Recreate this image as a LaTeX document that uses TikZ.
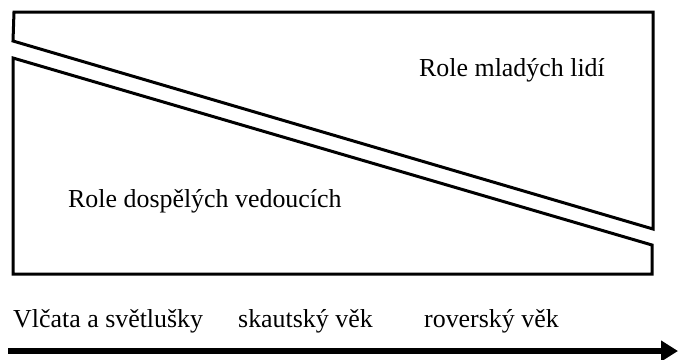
\documentclass[tikz,border=0pt]{standalone}
\usepackage{fontspec}
\setmainfont{Liberation Serif}
\usetikzlibrary{arrows.meta}

\begin{document}
\begin{tikzpicture}[x=1bp,y=-1bp,
    lbl/.style={inner sep=0pt, anchor=base west, font=\fontsize{26}{30}\selectfont},
    band/.style={line width=3bp, line join=miter},
    timeline/.style={line width=6bp, -{Triangle[length=17bp,width=20bp]}}]
\useasboundingbox (0,0) rectangle (678,359);

% role bands
\draw[band] (14,12) -- (653,12) -- (653,229) -- (13,41) -- cycle;
\draw[band] (13,58) -- (652,245) -- (652,274) -- (13,274) -- cycle;

\node[lbl] (mladi) at (419,76) {Role mladých lidí};
\node[lbl] (dospeli) at (68,207) {Role dospělých vedoucích};

% age ranges
\node[lbl] (vlcata) at (13,327) {Vlčata a světlušky};
\node[lbl] (skauti) at (238,327) {skautský věk};
\node[lbl] (roveri) at (424,327) {roverský věk};

\coordinate (start) at (8,351);
\coordinate (end) at (678,351);
\draw[timeline] (start) -- (end);
\end{tikzpicture}
\end{document}
